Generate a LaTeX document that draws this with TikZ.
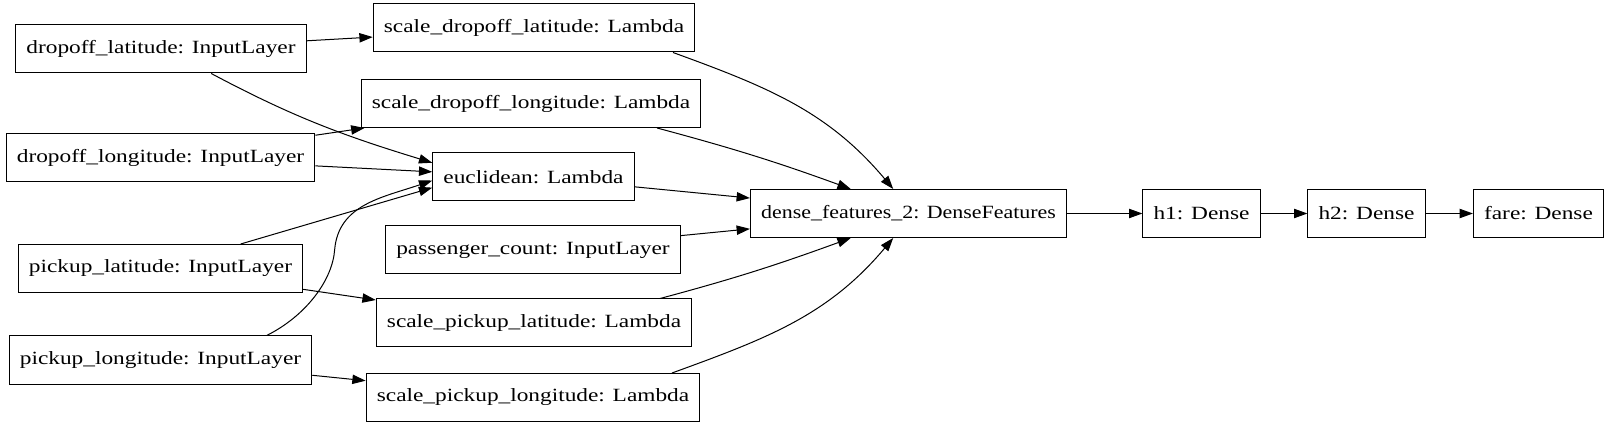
\documentclass[tikz,border=0pt]{standalone}
\usepackage{fontspec}
\setmainfont{Liberation Serif}[FakeStretch=1.25]
\usepackage{tikz}
\usetikzlibrary{shapes,arrows.meta}

\begin{document}
\begin{tikzpicture}[x=0.75pt, y=-0.75pt]
    % Define block styles
    \tikzstyle{block} = [rectangle, draw, line width=0.75pt, inner xsep=8pt,
        minimum height=36pt, font=\fontsize{14}{17}\selectfont]
    \tikzstyle{line} = [draw, line width=0.75pt, -{Triangle[length=10pt, width=7pt]}]

    \useasboundingbox (0,0) rectangle (1609,427);

    % Place nodes
    \node [block] (dlat) at (161,49) {dropoff\_latitude: InputLayer};
    \node [block] (dlon) at (160.5,158) {dropoff\_longitude: InputLayer};
    \node [block] (plat) at (160.5,268.5) {pickup\_latitude: InputLayer};
    \node [block] (plon) at (160.5,360) {pickup\_longitude: InputLayer};
    \node [block] (sdlat) at (534,28) {scale\_dropoff\_latitude: Lambda};
    \node [block] (sdlon) at (531,103.5) {scale\_dropoff\_longitude: Lambda};
    \node [block] (eucl) at (533.5,177) {euclidean: Lambda};
    \node [block] (pcount) at (533,250) {passenger\_count: InputLayer};
    \node [block] (splat) at (534,323) {scale\_pickup\_latitude: Lambda};
    \node [block] (splon) at (533,397.5) {scale\_pickup\_longitude: Lambda};
    \node [block] (dense) at (908.5,213.5) {\scalebox{0.94}[1]{dense\_features\_2: DenseFeatures}};
    \node [block] (h1) at (1201.5,213.5) {h1: Dense};
    \node [block] (h2) at (1366.5,213.5) {h2: Dense};
    \node [block] (fare) at (1538.5,213.5) {fare: Dense};

    % Draw edges
    \path [line] (dlat) -- (sdlat);
    \path [line] (dlat.-26) to[out=-28, in=163] (eucl.172);
    \path [line] (dlon) -- (sdlon);
    \path [line] (dlon) -- (eucl);
    \path [line] (plat.17) -- (eucl.186);
    \path [line] (plon.13) .. controls +(40,-20) and +(-2,30) .. ++(68,-86)
        .. controls +(4,-45) and +(-50,17) .. (eucl.-178);
    \path [line] (plat) -- (splat);
    \path [line] (plon) -- (splon);
    \path [line] (sdlat.-10) to[out=-20, in=130] (dense.122);
    \path [line] (sdlon.-11) to[out=-15, in=160] (dense.157);
    \path [line] (eucl) -- (dense);
    \path [line] (pcount) -- (dense);
    \path [line] (splat.11) to[out=15, in=-160] (dense.-157);
    \path [line] (splon.10) to[out=20, in=-130] (dense.-122);
    \path [line] (dense) -- (h1);
    \path [line] (h1) -- (h2);
    \path [line] (h2) -- (fare);
\end{tikzpicture}
\end{document}
